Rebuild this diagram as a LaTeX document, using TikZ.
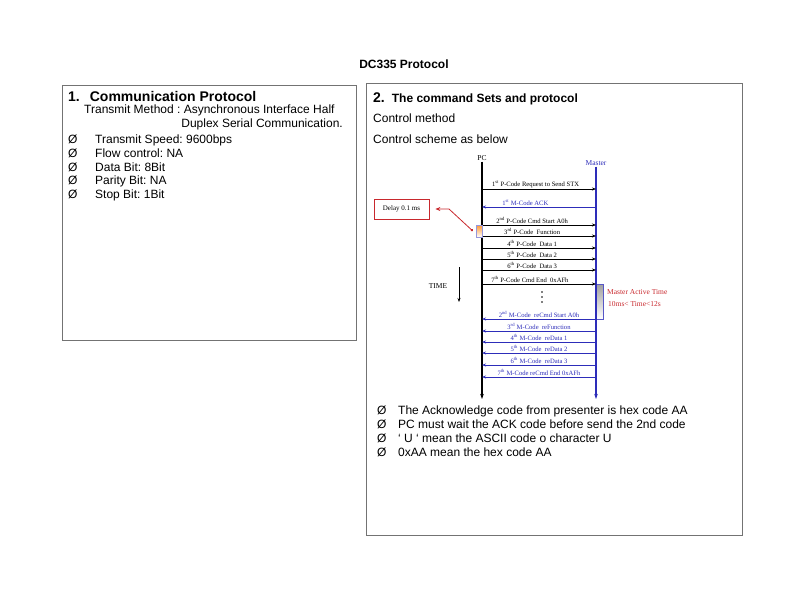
\documentclass[tikz,border=0pt]{standalone}
\usepackage{fontspec}
\setmainfont{Liberation Sans}
\newfontfamily\tnr{Liberation Serif}
\usetikzlibrary{arrows.meta,positioning}
\definecolor{mblue}{RGB}{45,45,185}
\definecolor{dred}{RGB}{200,40,45}
\definecolor{frame}{gray}{0.45}
\frenchspacing

\begin{document}
\begin{tikzpicture}[x=1pt, y=-1pt,
    panel/.style={draw=frame, line width=1pt},
    txt/.style={font=\fontsize{12}{14}\selectfont, anchor=base west, inner sep=0pt},
    hd/.style={font=\fontsize{14}{16}\selectfont\bfseries, anchor=base west, inner sep=0pt},
    life/.style={-{Stealth[length=5pt,width=3.5pt]}, line width=1.3pt},
    msg/.style={-{Stealth[length=4pt,width=3pt]}, line width=0.8pt},
    lbl/.style={font=\tnr\fontsize{6.6}{7}\selectfont, above, inner sep=0.6pt},
    note/.style={font=\tnr\fontsize{7.5}{9}\selectfont, inner sep=1pt}
]
\useasboundingbox (0,0) rectangle (808,597);

\node[font=\fontsize{12}{14}\selectfont\bfseries] (title) at (404,64) {DC335 Protocol};

% left panel
\draw[panel] (62,85) rectangle (356,340);
\node[hd] (h1) at (68,101) {1.\hspace{10pt}Communication Protocol};
\node[txt] (tm) at (84,113.8) {Transmit Method : Asynchronous Interface Half};
\node[txt, anchor=base east] (dx) at (343,127.2) {Duplex Serial Communication.};
\node[txt] (b1) at (68,143.7) {\makebox[27pt][l]{Ø}Transmit Speed: 9600bps};
\node[txt] (b2) at (68,157.4) {\makebox[27pt][l]{Ø}Flow control: NA};
\node[txt] (b3) at (68,171.2) {\makebox[27pt][l]{Ø}Data Bit: 8Bit};
\node[txt] (b4) at (68,184.9) {\makebox[27pt][l]{Ø}Parity Bit: NA};
\node[txt] (b5) at (68,198.6) {\makebox[27pt][l]{Ø}Stop Bit: 1Bit};

% right panel
\draw[panel] (366,83) rectangle (742,535);
\node[hd] (h2) at (373,102.5) {2.\hspace{7pt}{\fontsize{12}{14}\selectfont The command Sets and protocol}};
\node[txt] (cm) at (373,122.3) {Control method};
\node[txt] (cs) at (373,143.3) {Control scheme as below};

% lifelines
\node[note] (pc) at (482,158) {PC};
\node[note, text=mblue] (ms) at (596,163) {Master};
\coordinate (pcend) at (482,399);
\coordinate (msend) at (596,399);
\node[draw=mblue!80, top color=gray!75, bottom color=white, minimum width=7pt, minimum height=35pt, inner sep=0pt] (act) at (599.5,301.5) {};
\draw[life] (pc) -- (pcend);
\draw[life, mblue] (ms) -- (msend);

\coordinate (p1) at (482,189);  \coordinate (m1) at (596,189);
\coordinate (p2) at (482,207);  \coordinate (m2) at (596,207);
\coordinate (p3) at (482,225);  \coordinate (m3) at (596,225);
\coordinate (p4) at (482,236);  \coordinate (m4) at (596,236);
\coordinate (p5) at (482,248);  \coordinate (m5) at (596,248);
\coordinate (p6) at (482,259);  \coordinate (m6) at (596,259);
\coordinate (p7) at (482,270);  \coordinate (m7) at (596,270);
\coordinate (p8) at (482,284);  \coordinate (m8) at (596,284);
\coordinate (p9) at (482,319);  \coordinate (m9) at (596,319);
\coordinate (p10) at (482,331); \coordinate (m10) at (596,331);
\coordinate (p11) at (482,342); \coordinate (m11) at (596,342);
\coordinate (p12) at (482,353); \coordinate (m12) at (596,353);
\coordinate (p13) at (482,365); \coordinate (m13) at (596,365);
\coordinate (p14) at (482,377); \coordinate (m14) at (596,377);

\draw[msg] (p1) -- node[lbl, pos=0.47] {1\textsuperscript{st} P-Code Request to Send STX} (m1);
\draw[msg, mblue] (m2) -- node[lbl, pos=0.62] {1\textsuperscript{st} M-Code ACK} (p2);
\draw[msg] (p3) -- node[lbl, pos=0.44] {2\textsuperscript{nd} P-Code Cmd Start A0h} (m3);
\draw[msg] (p4) -- node[lbl, pos=0.44] {3\textsuperscript{rd} P-Code\enspace Function} (m4);
\draw[msg] (p5) -- node[lbl, pos=0.44] {4\textsuperscript{th} P-Code\enspace Data 1} (m5);
\draw[msg] (p6) -- node[lbl, pos=0.44] {5\textsuperscript{th} P-Code\enspace Data 2} (m6);
\draw[msg] (p7) -- node[lbl, pos=0.44] {6\textsuperscript{th} P-Code\enspace Data 3} (m7);
\draw[msg] (p8) -- node[lbl, pos=0.42] {7\textsuperscript{th} P-Code Cmd End\enspace 0xAFh} (m8);
\coordinate (dots) at (542,297);
\fill ([yshift=-5pt]dots) circle (0.9pt) (dots) circle (0.9pt) ([yshift=5pt]dots) circle (0.9pt);
\draw[msg, mblue] (m9) -- node[lbl, pos=0.5] {2\textsuperscript{nd} M-Code\enspace reCmd Start A0h} (p9);
\draw[msg, mblue] (m10) -- node[lbl, pos=0.5] {3\textsuperscript{rd} M-Code\enspace reFunction} (p10);
\draw[msg, mblue] (m11) -- node[lbl, pos=0.5] {4\textsuperscript{th} M-Code\enspace reData 1} (p11);
\draw[msg, mblue] (m12) -- node[lbl, pos=0.5] {5\textsuperscript{th} M-Code\enspace reData 2} (p12);
\draw[msg, mblue] (m13) -- node[lbl, pos=0.5] {6\textsuperscript{th} M-Code\enspace reData 3} (p13);
\draw[msg, mblue] (m14) -- node[lbl, pos=0.5] {7\textsuperscript{th} M-Code reCmd End 0xAFh} (p14);

% time arrow
\node[note] (time) at (438,286) {TIME};
\coordinate (t1) at (459,267);
\coordinate (t2) at (459,302);
\draw[msg] (t1) -- (t2);

% delay marker
\node[draw=mblue!50, top color=orange!80, bottom color=white, minimum width=6pt, minimum height=12pt, inner sep=0pt] (gap) at (479,231) {};
\node[draw=dred, line width=0.8pt, minimum width=55pt, minimum height=20pt, font=\tnr\fontsize{7}{8}\selectfont] (delay) at (401.5,209) {Delay 0.1 ms};
\coordinate (bend) at (449,209);
\draw[dred, line width=0.8pt, {Circle[length=2.5pt]}-{Stealth[length=5pt,width=4pt]}, shorten >=6pt] ([xshift=-3pt]gap.west) -- (bend) -- (delay.east);

% active time note
\node[note, text=dred, anchor=west] (mat) at (606,292) {Master Active Time};
\node[note, text=dred, anchor=west] (rng) at (607,304) {10ms< Time<12s};

% notes below
\node[txt] (n1) at (377,414.3) {\makebox[21pt][l]{Ø}The Acknowledge code from presenter is hex code AA};
\node[txt] (n2) at (377,428.3) {\makebox[21pt][l]{Ø}PC must wait the ACK code before send the 2nd code};
\node[txt] (n3) at (377,442.3) {\makebox[21pt][l]{Ø}‘ U ‘ mean the ASCII code o character U};
\node[txt] (n4) at (377,456.3) {\makebox[21pt][l]{Ø}0xAA mean the hex code AA};
\end{tikzpicture}
\end{document}
